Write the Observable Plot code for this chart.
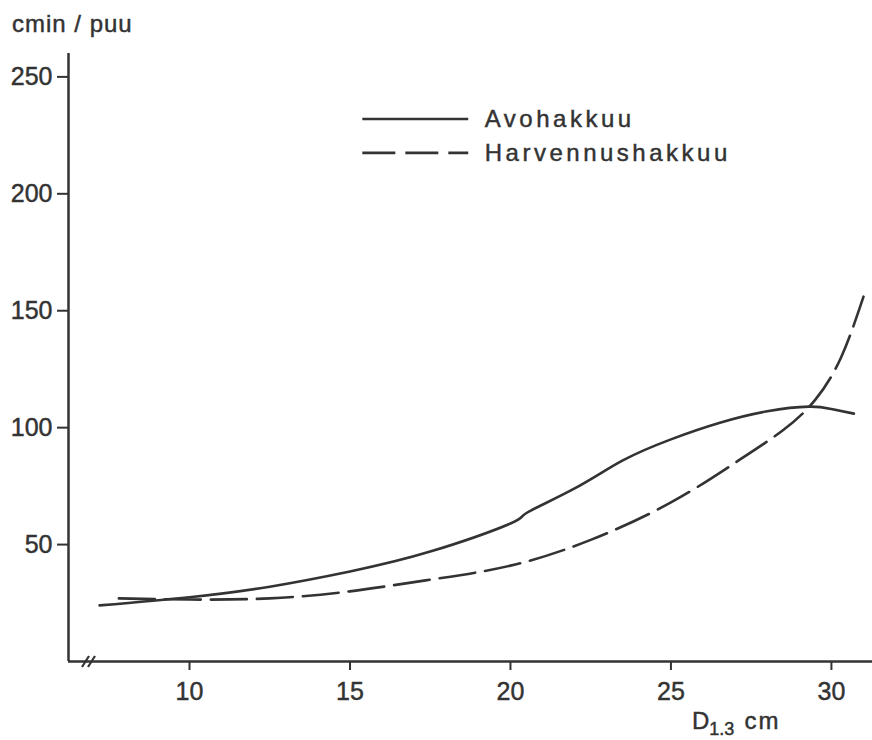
<!DOCTYPE html>
<html><head><meta charset="utf-8">
<script src="https://cdn.jsdelivr.net/npm/d3@7"></script>
<script src="https://cdn.jsdelivr.net/npm/@observablehq/plot@0.6"></script>
<style>body{margin:0;background:#fff} svg{display:block} svg text{stroke:#333;stroke-width:0.45px}</style>
</head><body><div id="chart"></div>
<script>
// Data (D1.3 in cm, time in cmin per tree)
const avoD = [7.2, 10, 12.5, 15, 17.5, 20, 20.5, 22, 23.5, 25, 26.5, 28, 29.3, 30, 30.7];
const avoV = [24, 27.5, 32, 38.5, 47, 59, 63.5, 74, 86, 95, 102, 107, 109, 108, 106];
const harD = [7.8, 10, 12.5, 15, 17.5, 20, 22.5, 25, 27, 28.5, 29.5, 30.3, 31];
const harV = [27, 26.5, 27, 30, 35, 41, 52, 68, 85, 99, 112, 130, 156];
const seriesNames = ["Avohakkuu", "Harvennushakkuu"];
const xTicks = [10, 15, 20, 25, 30];
const yTicks = [50, 100, 150, 200, 250];
const yLabel = "cmin / puu";

const avo = avoD.map((d, i) => ({d, v: avoV[i]}));
const har = harD.map((d, i) => ({d, v: harV[i]}));

const ink = "#333";
const xDomain = [6.23, 31.28];
const yDomain = [0, 260];
// legend layout (in chart coordinates)
const legend = seriesNames.map((name, i) => ({name, y: [232, 217.5][i], dash: i ? "36,10" : null}));

const plot = Plot.plot({
  width: 872, height: 740,
  marginLeft: 68, marginRight: 0, marginTop: 53, marginBottom: 79,
  x: {domain: xDomain},
  y: {domain: yDomain},
  style: {fontFamily: "Liberation Sans, Arial, sans-serif", color: ink, background: "#fff"},
  marks: [
    Plot.ruleY([0], {stroke: ink, strokeWidth: 2.5}),
    Plot.ruleX([xDomain[0]], {y1: 0, y2: yDomain[1], stroke: ink, strokeWidth: 2.5}),
    Plot.axisY(yTicks, {tickSize: 11, tickPadding: 5, fontSize: 25, label: null, strokeWidth: 2, stroke: ink, fill: ink}),
    Plot.axisX(xTicks, {tickSize: 9, tickPadding: 12, fontSize: 25, label: null, strokeWidth: 2, stroke: ink, fill: ink}),
    Plot.line(avo, {x: "d", y: "v", curve: "natural", stroke: ink, strokeWidth: 2.6}),
    Plot.line(har, {x: "d", y: "v", curve: "natural", stroke: ink, strokeWidth: 2.6, strokeDasharray: "36,10"}),
    Plot.ruleY(legend.filter(l => !l.dash), {y: "y", x1: 15.4, x2: 18.7, stroke: ink, strokeWidth: 2.6}),
    Plot.ruleY(legend.filter(l => l.dash), {y: "y", x1: 15.4, x2: 18.7, stroke: ink, strokeWidth: 2.6, strokeDasharray: "33,10"}),
    Plot.text(legend, {x: 19.2, y: "y", text: "name", textAnchor: "start", fontSize: 24, fill: ink})
  ]
});

const svg = d3.select(plot);
svg.selectAll("text").filter(function() { return seriesNames.includes(this.textContent); })
  .style("letter-spacing", "3.5px");

const xs = plot.scale("x"), ys = plot.scale("y");
const x0 = xs.apply(xDomain[0]), y0 = ys.apply(0);
// axis break mark
[14, 20].forEach(off => {
  svg.append("line").attr("x1", x0 + off).attr("y1", y0 + 6).attr("x2", x0 + off + 7).attr("y2", y0 - 5)
    .attr("stroke", ink).attr("stroke-width", 2.2);
});
// y axis label
svg.append("text").attr("x", 12).attr("y", 32).attr("fill", ink).attr("text-anchor", "start")
  .style("font-size", "24px").style("letter-spacing", "1px").text(yLabel);
// x axis label
const xl = svg.append("text").attr("x", 692).attr("y", 729).attr("fill", ink).attr("text-anchor", "start")
  .style("font-size", "24px");
xl.append("tspan").text("D");
xl.append("tspan").attr("dy", 6).style("font-size", "18px").text("1.3");
xl.append("tspan").attr("dy", -6).attr("dx", 10).style("letter-spacing", "2px").text("cm");

document.getElementById("chart").appendChild(plot);
</script>
</body></html>
